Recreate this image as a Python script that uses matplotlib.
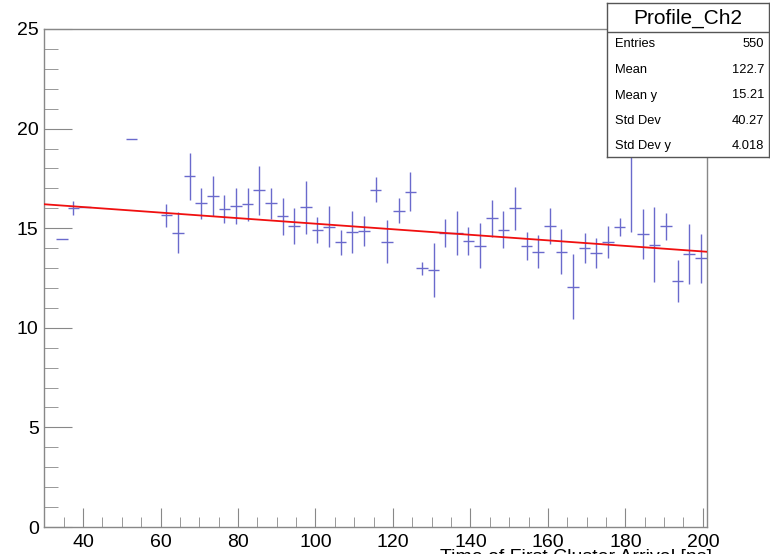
import numpy as np
import matplotlib
matplotlib.use("Agg")
import matplotlib.pyplot as plt

plt.rcParams['font.family'] = ['Liberation Sans', 'DejaVu Sans']

# Profile bins (centres), mean values and errors
x = np.array([34.5, 37.5, 40.5, 52.5, 61.5, 64.5, 67.5, 70.5, 73.5, 76.5,
              79.5, 82.5, 85.5, 88.5, 91.5, 94.5, 97.5, 100.5, 103.5, 106.5,
              109.5, 112.5, 115.5, 118.5, 121.5, 124.5, 127.5, 130.5, 133.5, 136.5,
              139.5, 142.5, 145.5, 148.5, 151.5, 154.5, 157.5, 160.5, 163.5, 166.5,
              169.5, 172.5, 175.5, 178.5, 181.5, 184.5, 187.5, 190.5, 193.5, 196.5,
              199.5])
y = np.array([14.48, 16.02, 16.05, 19.50, 15.65, 14.78, 17.61, 16.24, 16.61, 15.96,
              16.11, 16.19, 16.91, 16.24, 15.59, 15.10, 16.04, 14.90, 15.07, 14.30,
              14.80, 14.85, 16.94, 14.33, 15.87, 16.84, 12.98, 12.90, 14.77, 14.74,
              14.35, 14.12, 15.49, 14.92, 15.99, 14.10, 13.83, 15.09, 13.83, 12.06,
              14.00, 13.76, 14.30, 15.07, 19.00, 14.69, 14.18, 15.10, 12.36, 13.71,
              13.48])
yerr = np.array([0.0, 0.37, 0.0, 0.0, 0.58, 1.03, 1.19, 0.79, 1.00, 0.71,
                 0.90, 0.84, 1.23, 0.79, 0.95, 0.90, 1.35, 0.65, 1.02, 0.63,
                 1.05, 0.74, 0.61, 1.07, 0.63, 1.00, 0.33, 1.34, 0.69, 1.10,
                 0.71, 1.13, 0.95, 0.92, 1.09, 0.71, 0.81, 0.90, 1.15, 1.63,
                 0.75, 0.75, 0.82, 0.44, 4.21, 1.25, 1.90, 0.68, 1.06, 1.51,
                 1.24])
bin_width = 3.0

# linear fit (pol1)
p0, p1 = 16.62, -0.01394
fit_x = np.array([30.0, 201.0])

stats_labels = ["Entries", "Mean", "Mean y", "Std Dev", "Std Dev y"]
stats_values = ["550", "122.7", "15.21", "40.27", "4.018"]

W, H = 770, 554
fig = plt.figure(figsize=(W / 100, H / 100), dpi=100)
ax = fig.add_axes([44.3 / W, 1 - 527 / H, (706.7 - 44.3) / W, (527 - 29) / H])

ax.errorbar(x, y, yerr=yerr, xerr=bin_width / 2, fmt='none',
            ecolor='#6a6acc', elinewidth=1.0, capsize=0, zorder=2)
ax.plot(fit_x, p0 + p1 * fit_x, color='#f01010', lw=1.3, zorder=3)

ax.set_xlim(30, 201)
ax.set_ylim(0, 25)
ax.set_xticks(np.arange(40, 201, 20))
ax.set_xticks(np.arange(35, 201, 5), minor=True)
ax.set_yticks(np.arange(0, 26, 5))
ax.set_yticks(np.arange(0, 26, 1), minor=True)
ax.tick_params(which='both', direction='in', colors='#888888', labelcolor='black',
               labelsize=14, top=False, right=False)
ax.tick_params(axis='y', which='major', length=20, pad=4)
ax.tick_params(axis='y', which='minor', length=10)
ax.tick_params(axis='x', which='major', length=14, pad=5)
ax.tick_params(axis='x', which='minor', length=7)
for s in ax.spines.values():
    s.set_color('#888888')
    s.set_linewidth(1.0)

# x axis title, mostly cut off at the bottom edge (as in the original)
fig.text(712 / W, 1 - 548.5 / H, "Time of First Cluster Arrival [ns]",
         ha='right', va='top', fontsize=14)

# stats box
bx0, by0, bx1, by1 = 607, 3, 769, 157
sb = fig.add_axes([bx0 / W, 1 - by1 / H, (bx1 - bx0) / W, (by1 - by0) / H])
sb.set_xlim(bx0, bx1)
sb.set_ylim(by1, by0)
sb.set_xticks([])
sb.set_yticks([])
sb.set_facecolor('white')
for s in sb.spines.values():
    s.set_color('#555555')
    s.set_linewidth(1.0)
sb.axhline(32.3, color='#555555', lw=1.0)
sb.text((bx0 + bx1) / 2, 18.5, "Profile_Ch2", ha='center', va='center', fontsize=15)
rows = [44.3, 70.0, 95.5, 120.7, 145.7]
for lab, val, ry in zip(stats_labels, stats_values, rows):
    sb.text(615, ry, lab, ha='left', va='center', fontsize=9.3)
    sb.text(764, ry, val, ha='right', va='center', fontsize=9.3)

fig.savefig("out.png", dpi=100)
